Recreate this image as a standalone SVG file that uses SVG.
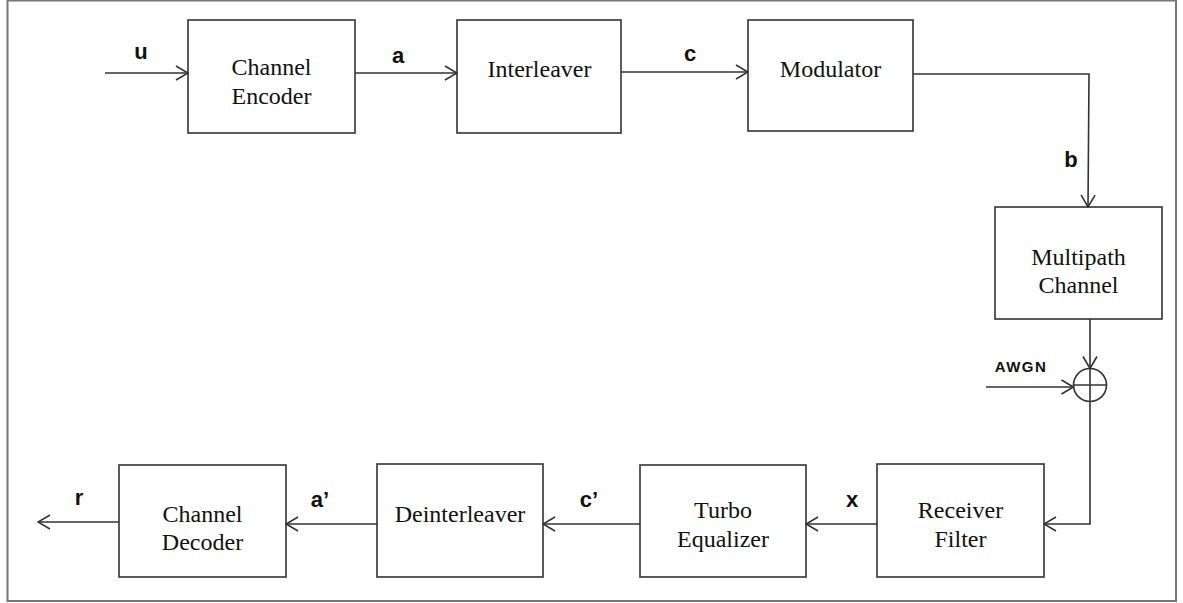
<svg xmlns="http://www.w3.org/2000/svg" width="1183" height="603" viewBox="0 0 1183 603">
  <style>
    .box { fill: #fff; stroke: #333; stroke-width: 1.6; }
    .wire { fill: none; stroke: #333; stroke-width: 1.6; }
    .name { font-family: "Liberation Serif", "Times New Roman", serif; font-size: 24px; fill: #111; text-anchor: middle; }
    .sig { font-family: "Liberation Sans", Arial, sans-serif; font-size: 22px; font-weight: bold; fill: #111; text-anchor: middle; }
    .small { font-size: 15px; letter-spacing: 1.5px; }
  </style>
  <defs>
    <marker id="arrow" viewBox="0 0 14 16" refX="13" refY="8" markerWidth="14" markerHeight="16" markerUnits="userSpaceOnUse" orient="auto">
      <path d="M1,1 L13,8 L1,15" fill="none" stroke="#333" stroke-width="1.6"/>
    </marker>
  </defs>

  <rect x="0" y="0" width="1183" height="603" fill="#fff"/>
  <rect x="7.5" y="0.5" width="1168.5" height="600.5" fill="none" stroke="#777" stroke-width="2"/>

  <!-- blocks -->
  <g id="channel-encoder">
    <rect class="box" x="188" y="20" width="167" height="113"/>
    <text class="name" x="271.5" y="75">Channel</text>
    <text class="name" x="271.5" y="104">Encoder</text>
  </g>
  <g id="interleaver">
    <rect class="box" x="457" y="20" width="164" height="113"/>
    <text class="name" x="539.5" y="77">Interleaver</text>
  </g>
  <g id="modulator">
    <rect class="box" x="748" y="20" width="165" height="111"/>
    <text class="name" x="830.5" y="77">Modulator</text>
  </g>
  <g id="multipath-channel">
    <rect class="box" x="995" y="207" width="167" height="112"/>
    <text class="name" x="1078.5" y="265">Multipath</text>
    <text class="name" x="1078.5" y="293">Channel</text>
  </g>
  <g id="adder">
    <circle class="wire" cx="1090" cy="385" r="16.5"/>
    <line class="wire" x1="1090" y1="368.5" x2="1090" y2="401.5"/>
    <line class="wire" x1="1073.5" y1="385" x2="1106.5" y2="385" stroke="#777"/>
  </g>
  <g id="receiver-filter">
    <rect class="box" x="877" y="464" width="167" height="113"/>
    <text class="name" x="960.5" y="518">Receiver</text>
    <text class="name" x="960.5" y="547">Filter</text>
  </g>
  <g id="turbo-equalizer">
    <rect class="box" x="640" y="465" width="166" height="112"/>
    <text class="name" x="723" y="518">Turbo</text>
    <text class="name" x="723" y="547">Equalizer</text>
  </g>
  <g id="deinterleaver">
    <rect class="box" x="377" y="464" width="166" height="113"/>
    <text class="name" x="460" y="522">Deinterleaver</text>
  </g>
  <g id="channel-decoder">
    <rect class="box" x="119" y="465" width="167" height="112"/>
    <text class="name" x="202.5" y="522">Channel</text>
    <text class="name" x="202.5" y="550">Decoder</text>
  </g>

  <!-- connectors -->
  <g id="connectors">
    <line class="wire" x1="105" y1="73" x2="188" y2="73" marker-end="url(#arrow)"/>
    <line class="wire" x1="355" y1="73" x2="457" y2="73" marker-end="url(#arrow)"/>
    <line class="wire" x1="621" y1="72" x2="748" y2="72" marker-end="url(#arrow)"/>
    <polyline class="wire" points="913,74 1089,74 1088,207" marker-end="url(#arrow)"/>
    <line class="wire" x1="1090" y1="319" x2="1090" y2="368.5" marker-end="url(#arrow)"/>
    <line class="wire" x1="986" y1="387" x2="1073.5" y2="387" marker-end="url(#arrow)"/>
    <polyline class="wire" points="1090,401.5 1090,524 1044,524" marker-end="url(#arrow)"/>
    <line class="wire" x1="877" y1="524" x2="806" y2="524" marker-end="url(#arrow)"/>
    <line class="wire" x1="640" y1="524" x2="543" y2="524" marker-end="url(#arrow)"/>
    <line class="wire" x1="377" y1="524" x2="286" y2="524" marker-end="url(#arrow)"/>
    <line class="wire" x1="119" y1="522" x2="38" y2="522" marker-end="url(#arrow)"/>

    <text class="sig" x="141" y="59">u</text>
    <text class="sig" x="398" y="63">a</text>
    <text class="sig" x="690" y="61">c</text>
    <text class="sig" x="1071" y="167">b</text>
    <text class="sig small" x="1021" y="372">AWGN</text>
    <text class="sig" x="79" y="505">r</text>
    <text class="sig" x="320" y="507">a’</text>
    <text class="sig" x="589" y="507">c’</text>
    <text class="sig" x="852" y="507">x</text>
  </g>
</svg>
